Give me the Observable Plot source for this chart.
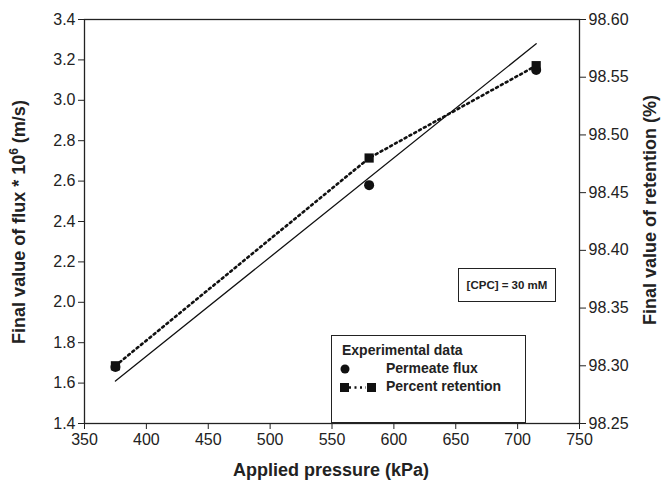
<!DOCTYPE html>
<html><head><meta charset="utf-8">
<script src="https://cdn.jsdelivr.net/npm/d3@7"></script>
<script src="https://cdn.jsdelivr.net/npm/@observablehq/plot@0.6"></script>
<style>
body{margin:0;background:#fff;font-family:"Liberation Sans",Arial,sans-serif;}
#wrap{position:relative;width:665px;height:487px;}
.lbl{position:absolute;font-weight:bold;font-size:18px;color:#222;white-space:nowrap;}
.box{position:absolute;border:1.3px solid #222;box-sizing:border-box;background:#fff;font-weight:bold;color:#222;}
</style></head>
<body><div id="wrap"></div>
<script>
const pressure = [375, 580, 715];
const flux = [1.68, 2.58, 3.15];
const retention = [98.30, 98.48, 98.56];
const fitPressure = [375, 715];
const fitFlux = [1.61, 3.28];
const xTicks = [350, 400, 450, 500, 550, 600, 650, 700, 750];
const fluxTicks = [1.4, 1.6, 1.8, 2.0, 2.2, 2.4, 2.6, 2.8, 3.0, 3.2, 3.4];
const retTicks = [98.25, 98.30, 98.35, 98.40, 98.45, 98.50, 98.55, 98.60];

const toFlux = r => 1.4 + (r - 98.25) / 0.35 * 2;
const toRet = f => 98.25 + (f - 1.4) / 2 * 0.35;

const pts = pressure.map((p, i) => ({p, f: flux[i], r: toFlux(retention[i])}));
const fit = fitPressure.map((p, i) => ({p, f: fitFlux[i]}));

const chart = Plot.plot({
  width: 665, height: 487,
  marginLeft: 84, marginRight: 86, marginTop: 19, marginBottom: 64,
  style: {fontFamily: '"Liberation Sans", Arial, sans-serif', fontSize: "16px", color: "#222", background: "#fff"},
  x: {domain: [350, 750]},
  y: {domain: [1.4, 3.4]},
  marks: [
    Plot.frame({stroke: "#222", strokeWidth: 1.3}),
    Plot.axisX({ticks: xTicks, tickSize: 6, tickPadding: 4, label: null, fontSize: 16}),
    Plot.axisY({ticks: fluxTicks, tickSize: 6, tickPadding: 3, tickFormat: d => d.toFixed(1), label: null, fontSize: 16}),
    Plot.axisY(retTicks.map(toFlux), {anchor: "right", tickSize: 6, tickPadding: 3, tickFormat: d => toRet(d).toFixed(2), label: null, fontSize: 16}),
    Plot.line(fit, {x: "p", y: "f", stroke: "#111", strokeWidth: 1.3}),
    Plot.line(pts, {x: "p", y: "r", stroke: "#111", strokeWidth: 2.6, strokeDasharray: "2,3.5"}),
    Plot.dot(pts, {x: "p", y: "f", r: 5, fill: "#111", stroke: "none"}),
    Plot.dot(pts, {x: "p", y: "r", r: 5.2, symbol: "square", fill: "#111", stroke: "none"})
  ]
});
const wrap = document.getElementById("wrap");
wrap.appendChild(chart);

function add(html, cls, css) {
  const d = document.createElement("div");
  d.className = cls; d.innerHTML = html;
  Object.assign(d.style, css);
  wrap.appendChild(d);
  return d;
}
// axis titles
add("Applied pressure (kPa)", "lbl", {left: "331px", top: "470px", transform: "translate(-50%,-50%)"});
add("Final value of flux * 10<sup style='font-size:12px;vertical-align:7px'>6</sup> (m/s)", "lbl",
    {left: "18px", top: "222px", transform: "translate(-50%,-50%) rotate(-90deg)"});
add("Final value of retention (%)", "lbl", {left: "650px", top: "210px", transform: "translate(-50%,-50%) rotate(-90deg)"});

// CPC box
add("[CPC] = 30 mM", "box", {left: "458px", top: "268px", width: "98px", height: "34px", fontSize: "11.5px", lineHeight: "32px", textAlign: "center"});

// legend
const leg = add(`
<div style="position:absolute;left:10px;top:6px;font-size:14px;">Experimental data</div>
<svg style="position:absolute;left:0;top:0" width="200" height="90">
  <circle cx="13" cy="33" r="4.5" fill="#111"/>
  <rect x="8" y="47" width="9" height="9" fill="#111"/>
  <line x1="17" y1="51.5" x2="34" y2="51.5" stroke="#111" stroke-width="2.5" stroke-dasharray="2,3.5"/>
  <rect x="35" y="47" width="9" height="9" fill="#111"/>
</svg>
<div style="position:absolute;left:54px;top:24px;font-size:14px;">Permeate flux</div>
<div style="position:absolute;left:54px;top:42px;font-size:14px;">Percent retention</div>
`, "box", {left: "331px", top: "335px", width: "195px", height: "88px"});
</script>
</body></html>
